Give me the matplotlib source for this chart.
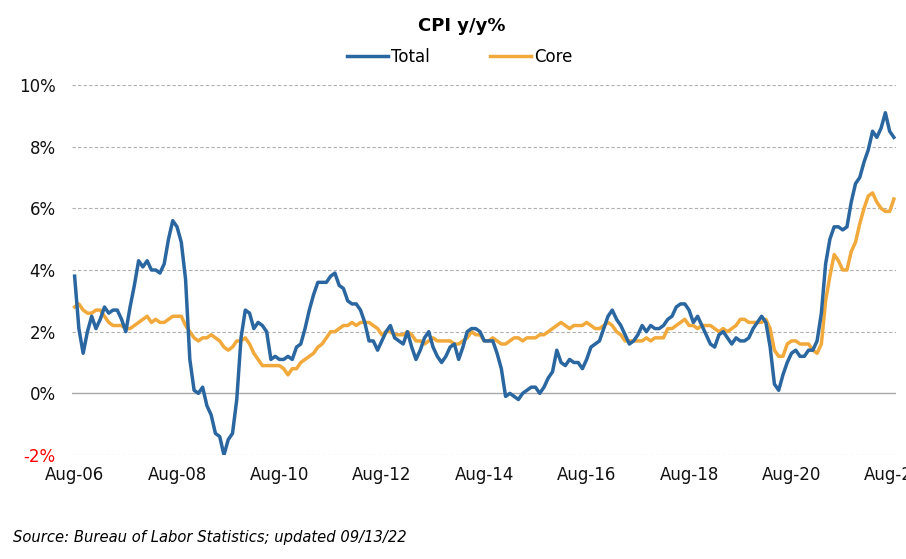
import matplotlib
matplotlib.use("Agg")
import matplotlib.pyplot as plt

plt.rcParams['font.family'] = ['DejaVu Sans']

# monthly y/y % change, Aug-2006 .. Aug-2022
total = [
    3.8, 2.1, 1.3, 2.0, 2.5,
    2.1, 2.4, 2.8, 2.6, 2.7, 2.7, 2.4, 2.0, 2.8, 3.5, 4.3, 4.1,
    4.3, 4.0, 4.0, 3.9, 4.2, 5.0, 5.6, 5.4, 4.9, 3.7, 1.1, 0.1,
    0.0, 0.2, -0.4, -0.7, -1.3, -1.4, -2.0, -1.5, -1.3, -0.2, 1.8, 2.7,
    2.6, 2.1, 2.3, 2.2, 2.0, 1.1, 1.2, 1.1, 1.1, 1.2, 1.1, 1.5,
    1.6, 2.1, 2.7, 3.2, 3.6, 3.6, 3.6, 3.8, 3.9, 3.5, 3.4, 3.0,
    2.9, 2.9, 2.7, 2.3, 1.7, 1.7, 1.4, 1.7, 2.0, 2.2, 1.8, 1.7,
    1.6, 2.0, 1.5, 1.1, 1.4, 1.8, 2.0, 1.5, 1.2, 1.0, 1.2, 1.5,
    1.6, 1.1, 1.5, 2.0, 2.1, 2.1, 2.0, 1.7, 1.7, 1.7, 1.3, 0.8,
    -0.1, 0.0, -0.1, -0.2, 0.0, 0.1, 0.2, 0.2, 0.0, 0.2, 0.5, 0.7,
    1.4, 1.0, 0.9, 1.1, 1.0, 1.0, 0.8, 1.1, 1.5, 1.6, 1.7, 2.1,
    2.5, 2.7, 2.4, 2.2, 1.9, 1.6, 1.7, 1.9, 2.2, 2.0, 2.2, 2.1,
    2.1, 2.2, 2.4, 2.5, 2.8, 2.9, 2.9, 2.7, 2.3, 2.5, 2.2, 1.9,
    1.6, 1.5, 1.9, 2.0, 1.8, 1.6, 1.8, 1.7, 1.7, 1.8, 2.1, 2.3,
    2.5, 2.3, 1.5, 0.3, 0.1, 0.6, 1.0, 1.3, 1.4, 1.2, 1.2, 1.4,
    1.4, 1.7, 2.6, 4.2, 5.0, 5.4, 5.4, 5.3, 5.4, 6.2, 6.8, 7.0,
    7.5, 7.9, 8.5, 8.3, 8.6, 9.1, 8.5, 8.3,
]
core = [
    2.8, 2.9, 2.7, 2.6, 2.6,
    2.7, 2.7, 2.5, 2.3, 2.2, 2.2, 2.2, 2.1, 2.1, 2.2, 2.3, 2.4,
    2.5, 2.3, 2.4, 2.3, 2.3, 2.4, 2.5, 2.5, 2.5, 2.2, 2.0, 1.8,
    1.7, 1.8, 1.8, 1.9, 1.8, 1.7, 1.5, 1.4, 1.5, 1.7, 1.7, 1.8,
    1.6, 1.3, 1.1, 0.9, 0.9, 0.9, 0.9, 0.9, 0.8, 0.6, 0.8, 0.8,
    1.0, 1.1, 1.2, 1.3, 1.5, 1.6, 1.8, 2.0, 2.0, 2.1, 2.2, 2.2,
    2.3, 2.2, 2.3, 2.3, 2.3, 2.2, 2.1, 1.9, 2.0, 2.0, 1.9, 1.9,
    1.9, 2.0, 1.9, 1.7, 1.7, 1.6, 1.7, 1.8, 1.7, 1.7, 1.7, 1.7,
    1.6, 1.6, 1.7, 1.8, 2.0, 1.9, 1.9, 1.7, 1.7, 1.8, 1.7, 1.6,
    1.6, 1.7, 1.8, 1.8, 1.7, 1.8, 1.8, 1.8, 1.9, 1.9, 2.0, 2.1,
    2.2, 2.3, 2.2, 2.1, 2.2, 2.2, 2.2, 2.3, 2.2, 2.1, 2.1, 2.2,
    2.3, 2.2, 2.0, 1.9, 1.7, 1.7, 1.7, 1.7, 1.7, 1.8, 1.7, 1.8,
    1.8, 1.8, 2.1, 2.1, 2.2, 2.3, 2.4, 2.2, 2.2, 2.1, 2.2, 2.2,
    2.2, 2.1, 2.0, 2.1, 2.0, 2.1, 2.2, 2.4, 2.4, 2.3, 2.3, 2.3,
    2.3, 2.4, 2.1, 1.4, 1.2, 1.2, 1.6, 1.7, 1.7, 1.6, 1.6, 1.6,
    1.4, 1.3, 1.6, 3.0, 3.8, 4.5, 4.3, 4.0, 4.0, 4.6, 4.9, 5.5,
    6.0, 6.4, 6.5, 6.2, 6.0, 5.9, 5.9, 6.3,
]
tick_labels = ["Aug-06", "Aug-08", "Aug-10", "Aug-12", "Aug-14",
               "Aug-16", "Aug-18", "Aug-20", "Aug-22"]
y_ticks = [-2, 0, 2, 4, 6, 8, 10]

blue = "#2a66a0"
orange = "#f2a93b"

fig = plt.figure(figsize=(9.06, 5.59), dpi=100)
ax = fig.add_axes([0.080, 0.186, 0.909, 0.662])

x = list(range(len(total)))
ax.plot(x, total, color=blue, lw=2.5, solid_joinstyle='round', label="Total", zorder=3)
ax.plot(x, core, color=orange, lw=2.5, solid_joinstyle='round', label="Core", zorder=2)

ax.set_xlim(-0.5, len(total) - 0.5)
ax.set_ylim(-2, 10)
ax.set_yticks(y_ticks)
ax.set_yticklabels([f"{v}%" for v in y_ticks])
ax.set_xticks(list(range(0, len(total), 24)))
ax.set_xticklabels(tick_labels)
ax.tick_params(axis='both', length=0, labelsize=12, colors="#111111")
ax.tick_params(axis='y', pad=12)
ax.tick_params(axis='x', pad=8)
ax.get_yticklabels()[0].set_color("red")

for v in y_ticks:
    if v == 0:
        ax.axhline(v, color="#a8a8a8", lw=1.0, zorder=1)
    else:
        ax.axhline(v, color="#b0b0b0", lw=0.8, ls=(0, (3, 2)), zorder=1)

for s in ax.spines.values():
    s.set_visible(False)

fig.text(0.510, 0.953, "CPI y/y%", ha='center', va='center',
         fontsize=13, fontweight='bold')
fig.legend(loc='center', bbox_to_anchor=(0.507, 0.898), ncol=2,
           frameon=False, fontsize=12, handlelength=2.5, handletextpad=0.15,
           columnspacing=3.6)
fig.text(0.014, 0.038, "Source: Bureau of Labor Statistics; updated 09/13/22",
         fontsize=10.6, style='italic', ha='left', va='center')

fig.savefig("out.png", dpi=100)
